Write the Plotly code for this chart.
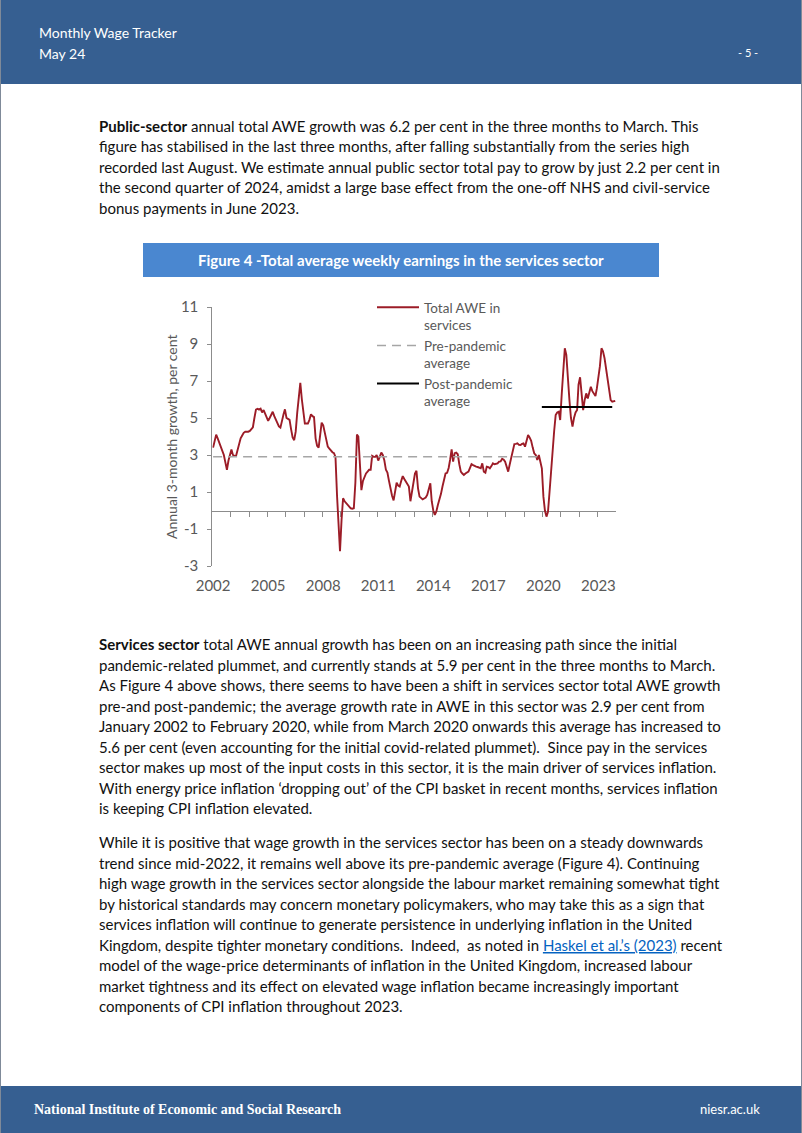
import plotly.graph_objects as go
import pandas as pd

W, H = 802, 1133

# ---------------- data ----------------
months = pd.date_range("2002-04-01", periods=264, freq="MS")
awe_services = [
    3.4, 3.7, 4.1, 3.9, 3.7, 3.4, 3.2, 3.0, 2.6, 2.2, 2.7, 3.0,
    3.3, 3.0, 2.95, 2.95, 3.3, 3.7, 3.9, 4.05, 4.2, 4.26, 4.25, 4.26,
    4.3, 4.4, 4.5, 5.0, 5.45, 5.5, 5.45, 5.5, 5.3, 5.43, 5.25, 5.05,
    4.85, 5.0, 5.2, 5.34, 5.1, 4.89, 4.7, 4.55, 4.48, 4.9, 5.2, 5.47,
    5.0, 4.95, 4.9, 4.4, 3.95, 3.8, 4.26, 5.3, 6.2, 6.9, 6.0, 5.2,
    4.7, 4.7, 4.7, 4.9, 5.2, 5.1, 5.05, 3.9, 3.5, 3.4, 4.2, 4.75,
    4.6, 4.2, 3.8, 3.45, 3.35, 3.23, 3.15, 3.1, 2.9, 0.8, -1.0, -2.2,
    -0.5, 0.66, 0.5, 0.39, 0.3, 0.2, 0.12, 0.1, 0.12, 1.5, 4.1, 4.0,
    2.3, 1.1, 1.6, 1.85, 2.0, 2.1, 2.2, 2.2, 2.95, 2.9, 2.9, 3.0,
    2.7, 2.9, 3.13, 3.0, 2.7, 2.2, 2.05, 1.6, 1.1, 0.8, 0.55, 1.1,
    1.5, 1.35, 1.3, 1.6, 1.86, 1.7, 1.56, 1.4, 1.3, 0.5, 1.0, 1.6,
    2.0, 2.15, 1.2, 0.75, 0.65, 0.6, 0.65, 0.7, 0.84, 1.1, 1.47, 0.5,
    0.0, -0.24, -0.05, 0.3, 0.57, 0.9, 1.3, 1.65, 2.0, 2.04, 2.3, 2.73,
    3.3, 2.64, 3.1, 3.13, 3.04, 2.5, 2.1, 2.0, 1.92, 2.0, 2.04, 2.1,
    2.3, 2.5, 2.45, 2.4, 2.37, 2.35, 2.3, 2.28, 2.55, 2.1, 2.04, 2.37,
    2.35, 2.28, 2.4, 2.55, 2.5, 2.51, 2.55, 2.64, 2.65, 2.8, 2.75, 2.64,
    2.4, 2.1, 2.5, 2.91, 3.3, 3.59, 3.6, 3.63, 3.55, 3.54, 3.6, 3.63,
    3.45, 3.8, 4.08, 3.95, 3.77, 3.4, 3.09, 3.0, 2.73, 3.0, 2.7, 2.28,
    0.75, 0.0, -0.33, -0.07, 1.0, 2.2, 3.4, 4.3, 5.16, 5.3, 5.34, 4.89,
    6.3, 7.9, 8.77, 8.41, 7.0, 5.97, 5.0, 4.53, 5.0, 5.3, 5.43, 6.8,
    7.2, 6.5, 5.43, 5.97, 6.33, 6.06, 6.4, 6.69, 6.45, 6.3, 6.19, 6.6,
    7.15, 7.8, 8.77, 8.6, 8.23, 7.6, 7.15, 6.5, 5.97, 5.88, 5.9, 5.93,
]
pre_avg_value = 2.9
pre_end = pd.Timestamp("2020-02-01")
post_avg_value = 5.6
post_start = pd.Timestamp("2020-03-01")
post_end = pd.Timestamp("2024-01-01")

y_ticks = [-3, -1, 1, 3, 5, 7, 9, 11]
x_label_years = [2002, 2005, 2008, 2011, 2014, 2017, 2020, 2023]
zero_tick_years = list(range(2003, 2024))

series_names = ["Total AWE in<br>services", "Pre-pandemic<br>average", "Post-pandemic<br>average"]

header_lines = ["Monthly Wage Tracker", "May 24"]
page_number = "- 5 -"
footer_left = "National Institute of Economic and Social Research"
footer_right = "niesr.ac.uk"
figure_title = "Figure 4 -Total average weekly earnings in the services sector"
y_title = "Annual 3-month growth, per cent"

para1 = [
    "<b>Public-sector</b> annual total AWE growth was 6.2 per cent in the three months to March. This",
    "figure has stabilised in the last three months, after falling substantially from the series high",
    "recorded last August. We estimate annual public sector total pay to grow by just 2.2 per cent in",
    "the second quarter of 2024, amidst a large base effect from the one-off NHS and civil-service",
    "bonus payments in June 2023.",
]
para2 = [
    "<b>Services sector</b> total AWE annual growth has been on an increasing path since the initial",
    "pandemic-related plummet, and currently stands at 5.9 per cent in the three months to March.",
    "As Figure 4 above shows, there seems to have been a shift in services sector total AWE growth",
    "pre-and post-pandemic; the average growth rate in AWE in this sector was 2.9 per cent from",
    "January 2002 to February 2020, while from March 2020 onwards this average has increased to",
    "5.6 per cent (even accounting for the initial covid-related plummet).  Since pay in the services",
    "sector makes up most of the input costs in this sector, it is the main driver of services inflation.",
    "With energy price inflation \u2018dropping out\u2019 of the CPI basket in recent months, services inflation",
    "is keeping CPI inflation elevated.",
]
para3 = [
    "While it is positive that wage growth in the services sector has been on a steady downwards",
    "trend since mid-2022, it remains well above its pre-pandemic average (Figure 4). Continuing",
    "high wage growth in the services sector alongside the labour market remaining somewhat tight",
    "by historical standards may concern monetary policymakers, who may take this as a sign that",
    "services inflation will continue to generate persistence in underlying inflation in the United",
    "Kingdom, despite tighter monetary conditions.  Indeed,  as noted in "
    "<span style='color:#0563C1'><u>Haskel et al.\u2019s (2023)</u></span> recent",
    "model of the wage-price determinants of inflation in the United Kingdom, increased labour",
    "market tightness and its effect on elevated wage inflation became increasingly important",
    "components of CPI inflation throughout 2023.",
]

# ---------------- styles ----------------
RED = "#9C1C27"
GREY_DASH = "#A6A6A6"
AXIS_GREY = "#8C8C8C"
TEXT_GREY = "#595959"
HEADER_BLUE = "#365F91"
TITLE_BLUE = "#4A87D0"
FONT = "Lato"


def px(x):
    return x / W


def py(y):
    return 1 - y / H


# plot area in page pixels
PL, PR, PT, PB = 212.3, 616.0, 307.0, 566.0
YMIN, YMAX = -3, 11

fig = go.Figure()

fig.add_trace(go.Scatter(
    x=months, y=awe_services, mode="lines", name=series_names[0],
    line=dict(color=RED, width=1.9), hoverinfo="skip",
))
pre_x = [m for m in months if m <= pre_end]
fig.add_trace(go.Scatter(
    x=pre_x, y=[pre_avg_value] * len(pre_x), mode="lines", name=series_names[1],
    line=dict(color=GREY_DASH, width=1.5, dash="9px,6px"), hoverinfo="skip",
))
post_x = [m for m in months if post_start <= m <= post_end]
fig.add_trace(go.Scatter(
    x=post_x, y=[post_avg_value] * len(post_x), mode="lines", name=series_names[2],
    line=dict(color="#000000", width=2), hoverinfo="skip",
))
# dummy trace so the zero-line axis is drawn
fig.add_trace(go.Scatter(x=[months[0]], y=[None], xaxis="x2", yaxis="y",
                         showlegend=False, hoverinfo="skip", mode="lines"))

x_range = [months[0] - pd.Timedelta(days=16), months[-1] + pd.Timedelta(days=15)]

fig.update_layout(
    width=W, height=H, autosize=False,
    margin=dict(l=0, r=0, t=0, b=0, pad=0, autoexpand=False),
    paper_bgcolor="white", plot_bgcolor="rgba(0,0,0,0)",
    font=dict(family=FONT, color=TEXT_GREY),
    showlegend=True,
    legend=dict(
        x=px(372), y=py(292), xanchor="left", yanchor="top",
        bgcolor="rgba(0,0,0,0)", font=dict(family=FONT, size=13.5, color=TEXT_GREY),
        itemwidth=42, valign="top", tracegroupgap=0, traceorder="normal",
    ),
    xaxis=dict(
        domain=[px(PL), px(PR)], range=x_range, type="date", automargin=False,
        tickvals=[pd.Timestamp(f"{y}-04-01") for y in x_label_years],
        ticktext=[str(y) for y in x_label_years],
        ticks="", showline=False, showgrid=False, zeroline=False,
        tickfont=dict(family=FONT, size=15, color=TEXT_GREY),
        ticklabelstandoff=9,
    ),
    xaxis2=dict(
        overlaying="x", matches="x", anchor="free", automargin=False,
        position=py(PB) + (py(PT) - py(PB)) * (0 - YMIN) / (YMAX - YMIN),
        range=x_range, type="date",
        tickvals=[pd.Timestamp(f"{y}-03-16") for y in zero_tick_years],
        showticklabels=False, ticks="outside", ticklen=5, tickwidth=1,
        tickcolor=AXIS_GREY, showline=True, linecolor=AXIS_GREY, linewidth=1,
        showgrid=False, zeroline=False, layer="below traces",
    ),
    yaxis=dict(
        domain=[py(PB), py(PT)], range=[YMIN, YMAX], automargin=False,
        tickvals=y_ticks, ticktext=[str(v) for v in y_ticks],
        ticks="outside", ticklen=4, tickcolor=AXIS_GREY,
        showline=True, linecolor=AXIS_GREY, linewidth=1,
        showgrid=False, zeroline=False,
        tickfont=dict(family=FONT, size=15, color=TEXT_GREY),
        ticklabelstandoff=6,
    ),
)

shapes = []
# header band
shapes.append(dict(type="rect", xref="paper", yref="paper", x0=0, x1=1, y0=py(84), y1=1,
                   fillcolor=HEADER_BLUE, line=dict(width=0), layer="below"))
# footer band
shapes.append(dict(type="rect", xref="paper", yref="paper", x0=0, x1=1, y0=0, y1=py(1086),
                   fillcolor=HEADER_BLUE, line=dict(width=0), layer="below"))
# page side borders
shapes.append(dict(type="line", xref="paper", yref="paper", x0=px(0.5), x1=px(0.5), y0=0, y1=1,
                   line=dict(color="#7F8A99", width=1)))
shapes.append(dict(type="line", xref="paper", yref="paper", x0=px(801.5), x1=px(801.5), y0=0, y1=1,
                   line=dict(color="#7F8A99", width=1)))
# figure title box
shapes.append(dict(type="rect", xref="paper", yref="paper", x0=px(143), x1=px(659), y0=py(277), y1=py(243),
                   fillcolor=TITLE_BLUE, line=dict(width=0), layer="below"))

annotations = []


def add_text(text, x, y, size, color, xanchor="left", family=FONT, **kw):
    annotations.append(dict(text=text, x=px(x), y=py(y), xref="paper", yref="paper",
                            xanchor=xanchor, yanchor="middle", showarrow=False,
                            font=dict(family=family, size=size, color=color), **kw))


add_text(header_lines[0], 37, 33, 14, "white")
add_text(header_lines[1], 37, 53, 14, "white")
add_text(page_number, 760, 52, 11, "white", xanchor="right")
add_text("<b>" + footer_left + "</b>", 32, 1109, 14, "white", family="Liberation Serif")
add_text(footer_right, 762, 1109, 13, "white", xanchor="right")
add_text("<b>" + figure_title + "</b>", 401, 260, 15, "white", xanchor="center")
annotations.append(dict(text=y_title, x=px(172), y=py(437), xref="paper", yref="paper",
                        xanchor="center", yanchor="middle", showarrow=False, textangle=-90,
                        font=dict(family=FONT, size=14, color=TEXT_GREY)))

BODY_X = 97
LINE_H = 20.5
for i, line in enumerate(para1):
    add_text(line, BODY_X, 126 + i * LINE_H, 15, "#111111")
for i, line in enumerate(para2):
    add_text(line, BODY_X, 644 + i * LINE_H, 15, "#111111")
for i, line in enumerate(para3):
    add_text(line, BODY_X, 842 + i * LINE_H, 15, "#111111")

fig.update_layout(shapes=shapes, annotations=annotations)

fig.write_html(
    "out.html",
    config={"displayModeBar": False, "staticPlot": True},
    post_script="document.body.style.margin='0';document.body.style.overflow='hidden';",
)
